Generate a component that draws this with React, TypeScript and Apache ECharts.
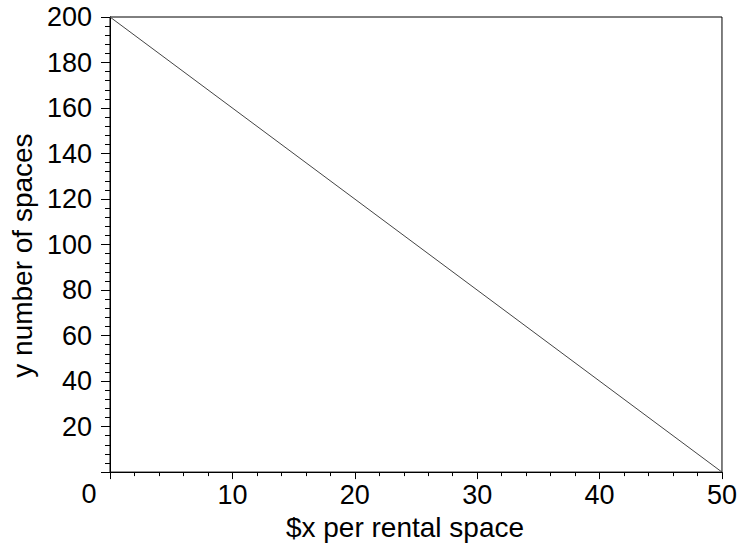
import React, { useEffect, useRef } from "react";
import * as echarts from "echarts";

const xValues = [0, 50];
const yValues = [200, 0];
const xTitle = "$x per rental space";
const yTitle = "y number of spaces";
const FONT = "Liberation Sans, Arial, sans-serif";

export default function App() {
  const ref = useRef<HTMLDivElement>(null);
  useEffect(() => {
    if (!ref.current) return;
    const chart = echarts.init(ref.current, null, { renderer: "svg" });
    chart.setOption({
      animation: false,
      backgroundColor: "#ffffff",
      grid: {
        left: 110,
        right: 17,
        top: 17,
        bottom: 68,
        show: true,
        borderColor: "#000",
        borderWidth: 1,
      },
      xAxis: {
        type: "value",
        min: 0,
        max: 50,
        interval: 10,
        name: xTitle,
        nameLocation: "middle",
        nameGap: 36,
        nameTextStyle: { fontFamily: FONT, fontSize: 28, color: "#000", padding: [0, 22, 0, 0] },
        axisLine: { show: true, lineStyle: { color: "#000", width: 1 } },
        axisTick: { show: true, inside: false, length: 7, lineStyle: { color: "#000" } },
        minorTick: { show: true, splitNumber: 5, length: 4, lineStyle: { color: "#000" } },
        splitLine: { show: false },
        axisLabel: {
          fontFamily: FONT,
          fontSize: 27,
          color: "#000",
          margin: 9,
          formatter: (v: number) => (v === 0 ? "" : String(v)),
        },
      },
      yAxis: {
        type: "value",
        min: 0,
        max: 200,
        interval: 20,
        name: yTitle,
        nameLocation: "middle",
        nameGap: 70,
        nameTextStyle: { fontFamily: FONT, fontSize: 28, color: "#000", padding: [0, 22, 0, 0] },
        axisLine: { show: true, lineStyle: { color: "#000", width: 1 } },
        axisTick: { show: true, inside: false, length: 9, lineStyle: { color: "#000" } },
        minorTick: { show: true, splitNumber: 5, length: 5, lineStyle: { color: "#000" } },
        splitLine: { show: false },
        axisLabel: {
          fontFamily: FONT,
          fontSize: 27,
          color: "#000",
          margin: 18,
          formatter: (v: number) => (v === 0 ? "" : String(v)),
        },
      },
      graphic: [
        {
          type: "text",
          x: 89,
          y: 494,
          style: {
            text: "0",
            fontFamily: FONT,
            fontSize: 27,
            fill: "#000",
            align: "center",
            verticalAlign: "middle",
          },
        },
      ],
      series: [
        {
          type: "line",
          data: xValues.map((x, i) => [x, yValues[i]]),
          symbol: "none",
          lineStyle: { color: "#444", width: 1 },
        },
      ],
    });
    return () => chart.dispose();
  }, []);
  return (
    <div
      ref={ref}
      style={{ position: "fixed", left: 0, top: 0, width: 740, height: 546 }}
    />
  );
}
